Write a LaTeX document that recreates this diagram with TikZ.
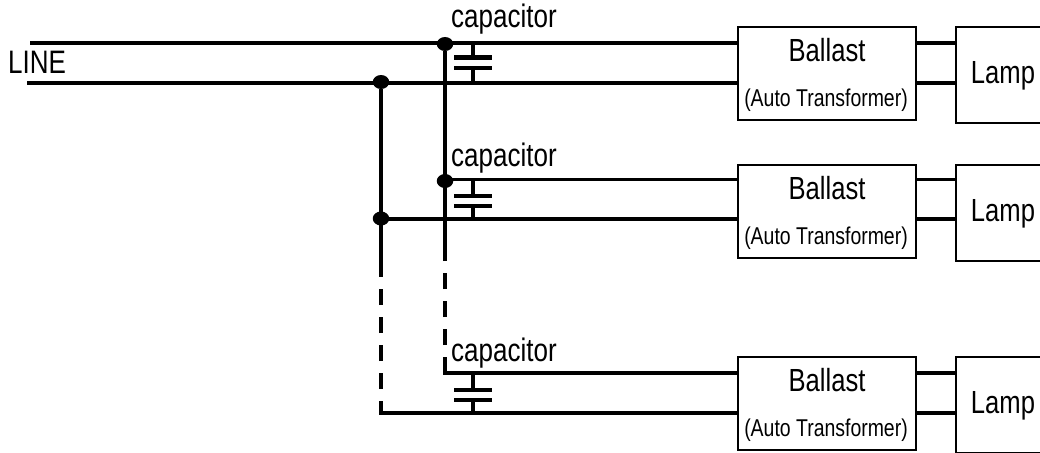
\documentclass[tikz,border=0pt]{standalone}
\usepackage{fontspec}
\setmainfont[FakeStretch=0.8]{Liberation Sans}
\usetikzlibrary{shapes.geometric}
\tikzset{
  x=1pt,y=-1pt,
  wire/.style={line width=3.6pt,black},
  plate/.style={line width=4pt,black},
  dot/.style={ellipse,fill=black,inner sep=0pt,minimum width=16.5pt,minimum height=14pt},
  boxb/.style={draw=black,line width=2pt,inner sep=0pt,minimum width=178pt,minimum height=93pt,anchor=north west},
  boxl/.style={draw=black,line width=2.4pt,inner sep=0pt,minimum width=110pt,minimum height=96pt,anchor=north west},
  big/.style={inner sep=0pt,anchor=base,font=\fontsize{32}{32}\selectfont},
  small/.style={inner sep=0pt,anchor=base,font=\fontsize{24.3}{24.3}\selectfont},
  capt/.style={inner sep=0pt,anchor=base west,font=\fontsize{32.5}{32.5}\selectfont},
}
\begin{document}
\begin{tikzpicture}
\useasboundingbox (0,0) rectangle (1040,452);
\clip (0,0) rectangle (1040,452);
% boxes
\node[boxb] (b1) at (737,26) {};
\node[boxb] (b2) at (737,164) {};
\node[boxb] (b3) at (737,356) {};
\node[boxl] (l1) at (955,26) {};
\node[boxl] (l2) at (955,164) {};
\node[boxl] (l3) at (955,356) {};
% texts
\node[capt] (c1) at (451,28) {capacitor};
\node[capt] (c2) at (451,166) {capacitor};
\node[capt] (c3) at (451,361) {capacitor};
\node[big] (t1) at (827,61) {Ballast};
\node[big] (t2) at (827,199) {Ballast};
\node[big] (t3) at (827,391) {Ballast};
\node[small] (a1) at (826,106) {(Auto Transformer)};
\node[small] (a2) at (826,244) {(Auto Transformer)};
\node[small] (a3) at (826,436) {(Auto Transformer)};
\node[big] (m1) at (1003,83) {Lamp};
\node[big] (m2) at (1003,221) {Lamp};
\node[big] (m3) at (1003,413) {Lamp};
\node[capt] (line) at (8,73) {LINE};
% junctions
\node[dot] (j1) at (445,44) {};
\node[dot] (j2) at (445,181) {};
\node[dot] (k1) at (381,82) {};
\node[dot] (k2) at (381,218.5) {};
\coordinate (s1) at (30,43);
\coordinate (s2) at (27,83);
\coordinate (r2a) at (445,179.5);
\coordinate (r2b) at (381,219);
\coordinate (r3a) at (443.2,373);
\coordinate (r3b) at (379.2,413);
\coordinate (vr) at (445,373);
\coordinate (vl) at (381,413);
\coordinate (vrs) at (445,259);
\coordinate (vls) at (381,277);
% mains
\draw[wire] (s1) -- (b1.west |- s1);
\draw[wire] (s2) -- (b1.west |- s2);
\draw[wire] (r2a) -- (b2.west |- r2a);
\draw[wire] (r2b) -- (b2.west |- r2b);
\draw[wire] (r3a) -- (b3.west |- r3a);
\draw[wire] (r3b) -- (b3.west |- r3b);
% ballast to lamp
\draw[wire] (b1.east |- s1) -- (l1.west |- s1);
\draw[wire] (b1.east |- s2) -- (l1.west |- s2);
\draw[wire] (b2.east |- r2a) -- (l2.west |- r2a);
\draw[wire] (b2.east |- r2b) -- (l2.west |- r2b);
\draw[wire] (b3.east |- r3a) -- (l3.west |- r3a);
\draw[wire] (b3.east |- r3b) -- (l3.west |- r3b);
% risers
\draw[wire] (j1) -- (vrs);
\draw[wire] (k1) -- (vls);
\draw[wire,dash pattern=on 16pt off 12pt] (vr) -- (vrs);
\draw[wire,dash pattern=on 16pt off 12pt,dash phase=4pt] (vl) -- (vls);
% capacitors
\foreach \n/\xa/\ya/\yb/\pa/\pb in {1/473/43/83/57.5/67.7, 2/473/179.5/219/196/206, 3/473/373/413/390/400}{
  \coordinate (cu\n) at (\xa,\ya);
  \coordinate (cd\n) at (\xa,\yb);
  \coordinate (pu\n) at (\xa,\pa);
  \coordinate (pd\n) at (\xa,\pb);
  \draw[wire] (cu\n) -- (pu\n);
  \draw[wire] (pd\n) -- (cd\n);
  \draw[plate] ([xshift=-19pt]pu\n) -- ([xshift=19pt]pu\n);
  \draw[plate] ([xshift=-19pt]pd\n) -- ([xshift=19pt]pd\n);
}
\end{tikzpicture}
\end{document}
